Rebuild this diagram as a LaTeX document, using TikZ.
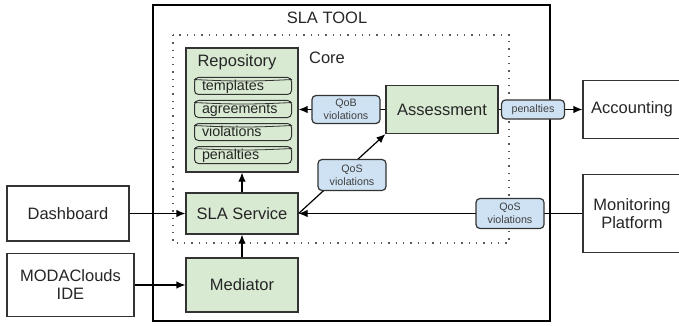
\documentclass[tikz,border=0pt]{standalone}
\usepackage{fontspec}
\setmainfont{Liberation Sans}
\usetikzlibrary{arrows.meta}
\definecolor{boxgreen}{HTML}{D9EAD3}
\definecolor{tagblue}{HTML}{CFE2F3}
\definecolor{edge}{HTML}{333333}
\tikzset{
  big/.style={font=\fontsize{16.5}{18}\selectfont,text=black!85},
  plainbox/.style={draw=edge,line width=1.2pt,fill=white,inner sep=0pt,align=center,big},
  greenbox/.style={plainbox,fill=boxgreen},
  tag/.style={draw=edge,line width=1.2pt,fill=tagblue,rounded corners=4pt,inner sep=0pt,align=center,text=black!75,font=\fontsize{10.7}{13}\selectfont},
  drum/.style={draw=edge,line width=1pt,fill=boxgreen,rounded corners=4pt,inner sep=0pt,minimum width=97pt,minimum height=17pt,text width=82pt,text height=11pt,text depth=2pt,align=left,text=black!85,font=\fontsize{14.3}{16}\selectfont},
  arr/.style={line width=1.2pt,-{Latex[length=9pt,width=7.5pt]}}
}
\begin{document}
\begin{tikzpicture}[x=1pt,y=-1pt]
\useasboundingbox (0,0) rectangle (679,326);
\clip (0,0) rectangle (679,326);
%\draw[step=10,gray,very thin] (0,0) grid (679,326); %background grid
\draw[line width=1.3pt] (153,5) rectangle (550,321); %sla tool
\draw[gray!70!black,line width=1.3pt,dash pattern=on 1.3pt off 6pt] (173,35) rectangle (509,243); %core

\node[big] (tooltitle) at (327,18) {SLA TOOL};
\node[big] (coretitle) at (327,58) {Core};

% repository
\node[greenbox,minimum width=112pt,minimum height=124pt] (repo) at (242,110) {};
\node[big] (repotitle) at (237,62) {Repository};
\node[drum] (tmpl) at (243,86)  {templates};
\node[drum] (agr)  at (243,109) {agreements};
\node[drum] (viol) at (243,132) {violations};
\node[drum] (pen)  at (243,155) {penalties};
\foreach \n in {tmpl,agr,viol,pen}
  \draw[edge,line width=0.8pt] ([yshift=-2.5pt]\n.north west) to[bend right=3] ([yshift=-2.5pt]\n.north east);

\node[greenbox,minimum width=112pt,minimum height=48pt] (assess) at (442,109.5) {Assessment};
\node[greenbox,minimum width=112pt,minimum height=41pt] (svc) at (242,213.5) {SLA Service};
\node[greenbox,minimum width=112pt,minimum height=54pt] (med) at (242,285) {Mediator};

\node[plainbox,minimum width=122pt,minimum height=55pt] (dash) at (68,213.5) {Dashboard};
\node[plainbox,minimum width=127pt,minimum height=63pt] (ide) at (70.5,285) {MODAClouds\\IDE};
\node[plainbox,minimum width=98pt,minimum height=58pt] (acct) at (632,109.5) {Accounting};
\node[plainbox,minimum width=98pt,minimum height=78pt] (mon) at (632,213.5) {Monitoring\\Platform};

% connectors
\draw[arr] (dash) -- (svc);
\draw[arr] (ide) -- (med);
\draw[arr] (med) -- (svc);
\draw[arr] (svc) -- (repo);
\draw[arr] (mon) -- (svc);
\draw[arr] (svc.east) -- (assess.south west);
\draw[arr] (assess.west) -- (assess.west -| repo.east);
\draw[arr] (assess) -- (acct);

% labels on the connectors
\node[tag,minimum width=68pt,minimum height=28pt] (qob) at (346,109.5) {QoB\\violations};
\node[tag,minimum width=63pt,minimum height=19pt] (pentag) at (533,109.5) {penalties};
\node[tag,minimum width=68pt,minimum height=31pt] (qos1) at (352,175) {QoS\\violations};
\node[tag,minimum width=68pt,minimum height=30pt] (qos2) at (510,213.5) {QoS\\violations};
\end{tikzpicture}
\end{document}
